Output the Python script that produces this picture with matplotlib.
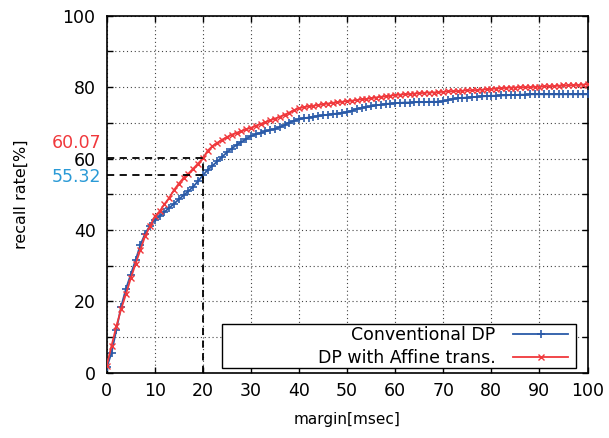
import numpy as np
import matplotlib
matplotlib.use("Agg")
import matplotlib.pyplot as plt
from matplotlib.ticker import MultipleLocator
from matplotlib.patches import Rectangle

# margin [msec], one sample per millisecond
margin = list(range(0, 101))

conventional_dp = [
    1.5, 5.5, 12.0, 18.5, 23.5, 27.5, 31.5, 35.8, 39.0, 41.2,
    42.8, 43.8, 45.0, 46.2, 47.3, 48.6, 49.7, 50.9, 52.1, 53.7,
    55.32, 56.8, 58.0, 59.2, 60.5, 61.7, 62.8, 63.8, 64.6, 65.5,
    66.3, 66.8, 67.2, 67.6, 68.0, 68.3, 68.8, 69.4, 70.1, 70.6,
    71.0, 71.3, 71.5, 71.7, 71.9, 72.1, 72.3, 72.5, 72.6, 72.8,
    73.0, 73.4, 73.9, 74.2, 74.4, 74.6, 74.9, 75.1, 75.3, 75.4,
    75.5, 75.6, 75.7, 75.7, 75.8, 75.8, 75.8, 75.9, 75.9, 75.9,
    76.0, 76.4, 76.7, 76.9, 77.0, 77.1, 77.2, 77.3, 77.4, 77.5,
    77.6, 77.6, 77.7, 77.7, 77.8, 77.8, 77.9, 77.9, 78.0, 78.0,
    78.0, 78.0, 78.0, 78.0, 78.0, 78.0, 78.0, 78.0, 78.0, 78.0,
    78.0,
]

dp_affine = [
    2.0, 7.5, 13.0, 17.8, 22.0, 26.4, 30.5, 34.4, 38.3, 41.0,
    43.8, 45.2, 47.2, 49.0, 51.2, 53.0, 54.6, 55.8, 57.2, 58.6,
    60.07, 62.2, 63.5, 64.4, 65.3, 66.0, 66.7, 67.2, 67.7, 68.2,
    68.6, 69.2, 69.7, 70.2, 70.7, 71.2, 71.7, 72.3, 72.9, 73.6,
    74.1, 74.4, 74.6, 74.8, 75.0, 75.2, 75.4, 75.6, 75.8, 75.9,
    76.1, 76.2, 76.4, 76.6, 76.7, 76.9, 77.1, 77.3, 77.4, 77.6,
    77.8, 77.9, 78.0, 78.1, 78.2, 78.3, 78.4, 78.5, 78.5, 78.6,
    78.7, 78.8, 78.9, 78.9, 79.0, 79.1, 79.1, 79.2, 79.3, 79.4,
    79.5, 79.6, 79.7, 79.8, 79.9, 79.9, 80.0, 80.0, 80.0, 80.1,
    80.1, 80.2, 80.3, 80.3, 80.4, 80.5, 80.5, 80.6, 80.6, 80.7,
    80.8,
]

x_mark = 20
blue = "#2a5aa8"
red = "#f0383c"
blue_label = "#2a9ad6"

plt.rcParams["font.family"] = ["DejaVu Sans"]

fig = plt.figure(figsize=(6.09, 4.38), dpi=100)
ax = fig.add_axes([0.1752, 0.149, 0.7895, 0.815])

ax.plot(margin, conventional_dp, color=blue, lw=1.3, marker="+",
        ms=6, mew=1.2, label="Conventional DP", zorder=3)
ax.plot(margin, dp_affine, color=red, lw=1.3, marker="x",
        ms=4.5, mew=1.0, label="DP with Affine trans.", zorder=4)

# reference lines at the 20 msec margin
y_red = dp_affine[margin.index(x_mark)]
y_blue = conventional_dp[margin.index(x_mark)]
dash = dict(color="black", lw=1.3, ls=(0, (4, 3)), zorder=5)
ax.plot([0, x_mark], [y_red, y_red], **dash)
ax.plot([0, x_mark], [y_blue, y_blue], **dash)
ax.plot([x_mark, x_mark], [0, y_red], **dash)

ax.text(-1.2, y_red + 4.4, f"{y_red:.2f}", color=red, ha="right",
        va="center", fontsize=12.5, clip_on=False)
ax.text(-1.2, y_blue - 0.6, f"{y_blue:.2f}", color=blue_label, ha="right",
        va="center", fontsize=12.5, clip_on=False)

ax.set_xlim(0, 100)
ax.set_ylim(0, 100)
ax.xaxis.set_major_locator(MultipleLocator(10))
ax.yaxis.set_major_locator(MultipleLocator(20))
ax.yaxis.set_minor_locator(MultipleLocator(10))

ax.grid(True, which="both", color="#444444", lw=0.8, ls=(0, (1, 2.5)))
ax.set_axisbelow(True)
ax.tick_params(which="both", direction="in", top=True, right=True,
               length=4, width=1, labelsize=12.5, pad=7)
ax.tick_params(axis="y", pad=8)
for s in ax.spines.values():
    s.set_linewidth(1.2)

ax.set_xlabel("margin[msec]", fontsize=11, labelpad=8)
ax.set_ylabel("recall rate[%]", fontsize=11.5)
ax.yaxis.set_label_coords(-0.162, 0.5)

# key box with a fixed width, entries right-aligned beside their samples
ax.add_patch(Rectangle((0.239, 0.014), 0.7367, 0.1216, transform=ax.transAxes,
                       facecolor="white", edgecolor="black", lw=1.0, zorder=6))
leg = ax.legend(loc="lower right", bbox_to_anchor=(0.98, -0.012),
                markerfirst=False, frameon=False,
                fontsize=12.5, handlelength=3.2, borderpad=0.25,
                labelspacing=0.3, handletextpad=1.0, borderaxespad=0.3)
leg.set_zorder(7)

fig.savefig("out.png", dpi=100)
